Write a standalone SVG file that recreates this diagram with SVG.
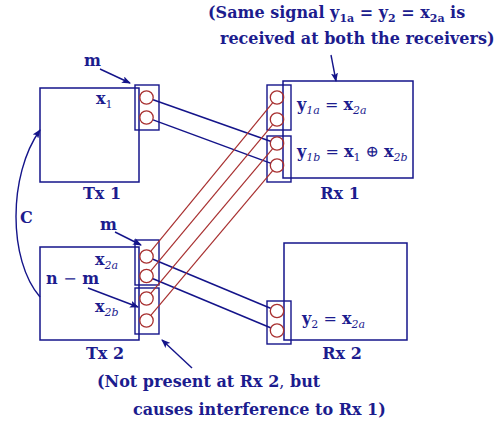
<svg xmlns="http://www.w3.org/2000/svg" width="502" height="428" viewBox="0 0 502 428">
<defs>
<marker id="ah" markerUnits="userSpaceOnUse" markerWidth="9" markerHeight="7" refX="8" refY="3.5" orient="auto">
<path d="M0,0 L9,3.5 L0,7 L2,3.5 z" fill="#14148a"/>
</marker>
<style>
.box{fill:none;stroke:#14148a;stroke-width:1.5}
.ant{fill:none;stroke:#14148a;stroke-width:1.4}
.c{fill:none;stroke:#a83030;stroke-width:1.3}
.bl{fill:none;stroke:#14148a;stroke-width:1.5}
.rl{fill:none;stroke:#a83030;stroke-width:1.2}
.ar{fill:none;stroke:#14148a;stroke-width:1.4;marker-end:url(#ah)}
text{font-family:"DejaVu Serif","Liberation Serif",serif;font-size:16px;font-weight:bold;fill:#1c1c8e}
.m{font-weight:normal}
.sb{font-size:11px}
.it{font-style:italic;font-weight:normal}
</style>
</defs>

<g id="annotations">
<text x="208" y="18">(Same signal y<tspan class="sb" dy="4">1a</tspan><tspan dy="-4"> = y</tspan><tspan class="sb" dy="4">2</tspan><tspan dy="-4"> = x</tspan><tspan class="sb" dy="4">2a</tspan><tspan dy="-4"> is</tspan></text>
<text x="220" y="44">received at both the receivers)</text>
<text x="97" y="387">(Not present at Rx 2<tspan class="m">,</tspan> but</text>
<text x="133" y="415">causes interference to Rx 1)</text>
</g>

<g id="tx1">
<rect class="box" x="40" y="88" width="99" height="94"/>
<rect class="ant" x="135" y="85" width="24" height="45"/>
<circle class="c" cx="146.5" cy="97.5" r="6.7"/>
<circle class="c" cx="146.5" cy="117.5" r="6.7"/>
<text x="96" y="104">x<tspan class="sb m" dy="4">1</tspan></text>
<text x="84" y="66">m</text>
<text x="102" y="199" text-anchor="middle">Tx 1</text>
</g>

<g id="tx2">
<rect class="box" x="40" y="247" width="99" height="93"/>
<rect class="ant" x="135" y="240" width="24" height="45"/>
<rect class="ant" x="135" y="288" width="24" height="46"/>
<circle class="c" cx="146.5" cy="256.5" r="6.7"/>
<circle class="c" cx="146.5" cy="276" r="6.7"/>
<circle class="c" cx="146.5" cy="298.5" r="6.7"/>
<circle class="c" cx="146.5" cy="320.5" r="6.7"/>
<text x="100" y="230">m</text>
<text x="95" y="265">x<tspan class="sb it" dy="4">2a</tspan></text>
<text x="46" y="284">n <tspan class="m">−</tspan> m</text>
<text x="95" y="312">x<tspan class="sb it" dy="4">2b</tspan></text>
<text x="105" y="359" text-anchor="middle">Tx 2</text>
</g>

<g id="rx1">
<rect class="box" x="283" y="81" width="130" height="97"/>
<rect class="ant" x="267" y="85" width="24" height="45"/>
<rect class="ant" x="267" y="136" width="24" height="46"/>
<circle class="c" cx="277" cy="97.5" r="6.7"/>
<circle class="c" cx="277" cy="119.5" r="6.7"/>
<circle class="c" cx="277" cy="143.5" r="6.7"/>
<circle class="c" cx="277" cy="165.5" r="6.7"/>
<text x="297" y="110">y<tspan class="sb it" dy="4">1a</tspan><tspan class="m" dy="-4"> = </tspan>x<tspan class="sb it" dy="4">2a</tspan></text>
<text x="297" y="157">y<tspan class="sb it" dy="4">1b</tspan><tspan class="m" dy="-4"> = </tspan>x<tspan class="sb m" dy="4">1</tspan><tspan class="m" dy="-4"> ⊕ </tspan>x<tspan class="sb it" dy="4">2b</tspan></text>
<text x="340" y="199" text-anchor="middle">Rx 1</text>
</g>

<g id="rx2">
<rect class="box" x="284" y="243" width="123" height="97"/>
<rect class="ant" x="267" y="301" width="24" height="43"/>
<circle class="c" cx="277" cy="311" r="6.7"/>
<circle class="c" cx="277" cy="330.5" r="6.7"/>
<text x="302" y="324">y<tspan class="sb m" dy="4">2</tspan><tspan class="m" dy="-4"> = </tspan>x<tspan class="sb it" dy="4">2a</tspan></text>
<text x="342" y="359" text-anchor="middle">Rx 2</text>
</g>

<g id="connectors">
<line class="bl" x1="153.1" y1="99.8" x2="270.4" y2="141.2"/>
<line class="bl" x1="153.1" y1="119.9" x2="270.4" y2="163.1"/>
<line class="bl" x1="153" y1="259.2" x2="270.5" y2="308.3"/>
<line class="bl" x1="153" y1="278.7" x2="270.5" y2="327.8"/>
<line class="rl" x1="150.9" y1="251.1" x2="272.6" y2="102.9"/>
<line class="rl" x1="151" y1="270.6" x2="272.5" y2="124.9"/>
<line class="rl" x1="151" y1="293.1" x2="272.5" y2="148.9"/>
<line class="rl" x1="151" y1="315.1" x2="272.5" y2="170.9"/>
<line class="ar" x1="100" y1="69" x2="130" y2="83"/>
<line class="ar" x1="331" y1="55" x2="336" y2="81"/>
<line class="ar" x1="115" y1="232" x2="141" y2="245"/>
<line class="ar" x1="88" y1="288" x2="138" y2="307"/>
<line class="ar" x1="192" y1="368" x2="162" y2="340"/>
<path class="ar" d="M40,297 C8,260 8,175 40,130"/>
<text x="20" y="223">C</text>
</g>
</svg>
